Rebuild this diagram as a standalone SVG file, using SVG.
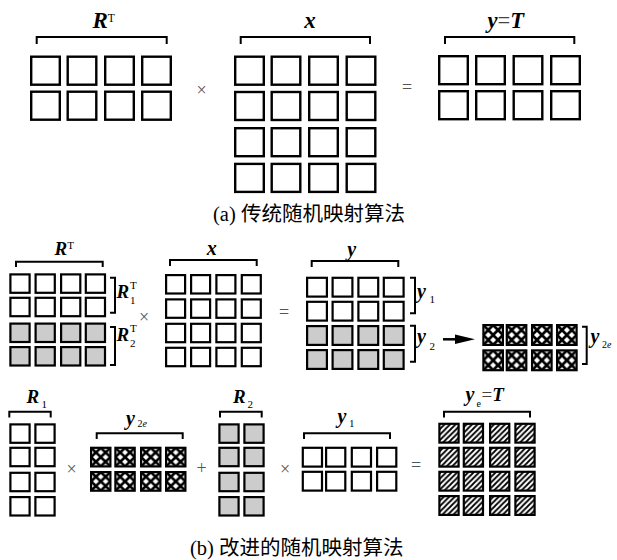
<svg xmlns="http://www.w3.org/2000/svg" width="617" height="560" viewBox="0 0 617 560">
<style>
.c{fill:#fff;stroke:#000;stroke-width:2.4}
.s{fill:#fff;stroke:#000;stroke-width:2.2}
.g{fill:#cccccc;stroke:#000;stroke-width:2.2}
.x{fill:url(#cross);stroke:#000;stroke-width:2.2}
.h{fill:url(#hatch);stroke:#000;stroke-width:2.2}
.br{fill:none;stroke:#000;stroke-width:2}
.m{font-family:"Liberation Serif",serif;font-weight:bold;font-style:italic;fill:#000}
.r{font-family:"Liberation Serif",serif;font-weight:normal;font-style:normal}
.op{font-family:"Liberation Serif",serif;font-size:18px;fill:#555;text-anchor:middle}
.cap{font-family:"Liberation Serif","Noto Sans CJK SC",serif;font-size:20.5px;fill:#000}
</style>
<defs>
<pattern id="cross" patternUnits="objectBoundingBox" patternContentUnits="objectBoundingBox" width="0.5" height="0.5">
<rect width="0.5" height="0.5" fill="#fff"/>
<path d="M-0.05,-0.05 L0.55,0.55 M0.55,-0.05 L-0.05,0.55" stroke="#000" stroke-width="0.14"/>
</pattern>
<pattern id="hatch" patternUnits="userSpaceOnUse" width="5.5" height="5.5">
<rect width="5.5" height="5.5" fill="#fff"/>
<path d="M-1,6.5 L6.5,-1 M-1,1 L1,-1 M4.5,6.5 L6.5,4.5" stroke="#000" stroke-width="1.8"/>
</pattern>
</defs>

<!-- (a) -->
<g id="a-RT">
<path class="br" d="M36.7,44 V37 H166.7 V44"/>
<text class="m" x="92.5" y="28.3" font-size="23">R<tspan class="r" font-size="11.5" dy="-6.8">T</tspan></text>
<rect class="c" x="31.2" y="56.7" width="28.6" height="28"/>
<rect class="c" x="67.7" y="56.7" width="28.6" height="28"/>
<rect class="c" x="105.2" y="56.7" width="28.6" height="28"/>
<rect class="c" x="142.2" y="56.7" width="28.6" height="28"/>
<rect class="c" x="31.2" y="91.7" width="28.6" height="28"/>
<rect class="c" x="67.7" y="91.7" width="28.6" height="28"/>
<rect class="c" x="105.2" y="91.7" width="28.6" height="28"/>
<rect class="c" x="142.2" y="91.7" width="28.6" height="28"/>
</g>
<text class="op" x="201.7" y="95.5">×</text>
<g id="a-x">
<path class="br" d="M240.7,44 V37 H370 V44"/>
<text class="m" x="310" y="28.3" font-size="23" text-anchor="middle">x</text>
<rect class="c" x="235.2" y="56.7" width="28.6" height="28"/>
<rect class="c" x="271.7" y="56.7" width="28.6" height="28"/>
<rect class="c" x="309.2" y="56.7" width="28.6" height="28"/>
<rect class="c" x="346.7" y="56.7" width="28.6" height="28"/>
<rect class="c" x="235.2" y="92" width="28.6" height="28"/>
<rect class="c" x="271.7" y="92" width="28.6" height="28"/>
<rect class="c" x="309.2" y="92" width="28.6" height="28"/>
<rect class="c" x="346.7" y="92" width="28.6" height="28"/>
<rect class="c" x="235.2" y="128.2" width="28.6" height="28"/>
<rect class="c" x="271.7" y="128.2" width="28.6" height="28"/>
<rect class="c" x="309.2" y="128.2" width="28.6" height="28"/>
<rect class="c" x="346.7" y="128.2" width="28.6" height="28"/>
<rect class="c" x="235.2" y="163.9" width="28.6" height="28"/>
<rect class="c" x="271.7" y="163.9" width="28.6" height="28"/>
<rect class="c" x="309.2" y="163.9" width="28.6" height="28"/>
<rect class="c" x="346.7" y="163.9" width="28.6" height="28"/>
</g>
<text class="op" x="407" y="92.5">=</text>
<g id="a-yT">
<path class="br" d="M445,44 V37 H574.3 V44"/>
<text class="m" x="487.5" y="28.3" font-size="22.5">y<tspan class="r" fill="#444">=</tspan>T</text>
<rect class="c" x="439.2" y="56.2" width="28.6" height="28"/>
<rect class="c" x="476.2" y="56.2" width="28.6" height="28"/>
<rect class="c" x="513.7" y="56.2" width="28.6" height="28"/>
<rect class="c" x="551.2" y="56.2" width="28.6" height="28"/>
<rect class="c" x="439.2" y="91.2" width="28.6" height="28"/>
<rect class="c" x="476.2" y="91.2" width="28.6" height="28"/>
<rect class="c" x="513.7" y="91.2" width="28.6" height="28"/>
<rect class="c" x="551.2" y="91.2" width="28.6" height="28"/>
</g>
<text class="cap" x="213" y="221">(a) 传统随机映射算法</text>

<!-- (b) top -->
<g id="b-RT">
<path class="br" d="M16,267 V261.7 H102.7 V267"/>
<text class="m" x="54.5" y="255" font-size="19">R<tspan class="r" font-size="11" dy="-6">T</tspan></text>
<rect class="s" x="10.4" y="274.4" width="19.2" height="18.4"/>
<rect class="s" x="35.6" y="274.4" width="19.2" height="18.4"/>
<rect class="s" x="61.1" y="274.4" width="19.2" height="18.4"/>
<rect class="s" x="85.8" y="274.4" width="19.2" height="18.4"/>
<rect class="s" x="10.4" y="297.8" width="19.2" height="18.4"/>
<rect class="s" x="35.6" y="297.8" width="19.2" height="18.4"/>
<rect class="s" x="61.1" y="297.8" width="19.2" height="18.4"/>
<rect class="s" x="85.8" y="297.8" width="19.2" height="18.4"/>
<rect class="g" x="10.4" y="323.6" width="19.2" height="18.4"/>
<rect class="g" x="35.6" y="323.6" width="19.2" height="18.4"/>
<rect class="g" x="61.1" y="323.6" width="19.2" height="18.4"/>
<rect class="g" x="85.8" y="323.6" width="19.2" height="18.4"/>
<rect class="g" x="10.4" y="347.1" width="19.2" height="18.4"/>
<rect class="g" x="35.6" y="347.1" width="19.2" height="18.4"/>
<rect class="g" x="61.1" y="347.1" width="19.2" height="18.4"/>
<rect class="g" x="85.8" y="347.1" width="19.2" height="18.4"/>
<path class="br" d="M110,277.7 H115 V312.7 H110"/>
<text class="m" x="116.5" y="298" font-size="19">R</text>
<text class="r" x="130" y="289" font-size="11" font-family="Liberation Serif, serif">T</text>
<text class="r" x="130" y="304" font-size="11" font-family="Liberation Serif, serif">1</text>
<path class="br" d="M110,327 H115 V365 H110"/>
<text class="m" x="116.5" y="341" font-size="19">R</text>
<text class="r" x="130" y="332" font-size="11" font-family="Liberation Serif, serif">T</text>
<text class="r" x="130" y="347" font-size="11" font-family="Liberation Serif, serif">2</text>
</g>
<text class="op" x="144" y="322.5">×</text>
<g id="b-x">
<path class="br" d="M170,266 V260 H256.7 V266"/>
<text class="m" x="211.7" y="255" font-size="20" text-anchor="middle">x</text>
<rect class="s" x="166.1" y="275.1" width="19" height="18.4"/>
<rect class="s" x="191.1" y="275.1" width="19" height="18.4"/>
<rect class="s" x="216.4" y="275.1" width="19" height="18.4"/>
<rect class="s" x="241.8" y="275.1" width="19" height="18.4"/>
<rect class="s" x="166.1" y="299.4" width="19" height="18.4"/>
<rect class="s" x="191.1" y="299.4" width="19" height="18.4"/>
<rect class="s" x="216.4" y="299.4" width="19" height="18.4"/>
<rect class="s" x="241.8" y="299.4" width="19" height="18.4"/>
<rect class="s" x="166.1" y="323.8" width="19" height="18.4"/>
<rect class="s" x="191.1" y="323.8" width="19" height="18.4"/>
<rect class="s" x="216.4" y="323.8" width="19" height="18.4"/>
<rect class="s" x="241.8" y="323.8" width="19" height="18.4"/>
<rect class="s" x="166.1" y="347.8" width="19" height="18.4"/>
<rect class="s" x="191.1" y="347.8" width="19" height="18.4"/>
<rect class="s" x="216.4" y="347.8" width="19" height="18.4"/>
<rect class="s" x="241.8" y="347.8" width="19" height="18.4"/>
</g>
<text class="op" x="284" y="317.5">=</text>
<g id="b-y">
<path class="br" d="M311.7,267 V261 H398.3 V267"/>
<text class="m" x="351.7" y="255.5" font-size="20" text-anchor="middle">y</text>
<rect class="s" x="307.1" y="277.8" width="19.8" height="18.8"/>
<rect class="s" x="332.6" y="277.8" width="19.8" height="18.8"/>
<rect class="s" x="358.4" y="277.8" width="19.8" height="18.8"/>
<rect class="s" x="383.8" y="277.8" width="19.8" height="18.8"/>
<rect class="s" x="307.1" y="301.8" width="19.8" height="18.8"/>
<rect class="s" x="332.6" y="301.8" width="19.8" height="18.8"/>
<rect class="s" x="358.4" y="301.8" width="19.8" height="18.8"/>
<rect class="s" x="383.8" y="301.8" width="19.8" height="18.8"/>
<rect class="g" x="307.1" y="326.1" width="19.8" height="18.8"/>
<rect class="g" x="332.6" y="326.1" width="19.8" height="18.8"/>
<rect class="g" x="358.4" y="326.1" width="19.8" height="18.8"/>
<rect class="g" x="383.8" y="326.1" width="19.8" height="18.8"/>
<rect class="g" x="307.1" y="350.1" width="19.8" height="18.8"/>
<rect class="g" x="332.6" y="350.1" width="19.8" height="18.8"/>
<rect class="g" x="358.4" y="350.1" width="19.8" height="18.8"/>
<rect class="g" x="383.8" y="350.1" width="19.8" height="18.8"/>
<path class="br" d="M410,277.7 H415 V313.3 H410"/>
<text class="m" x="417" y="298" font-size="20">y</text>
<text class="r" x="429.5" y="303.3" font-size="11" font-family="Liberation Serif, serif">1</text>
<path class="br" d="M410,325.7 H415 V361.7 H410"/>
<text class="m" x="417" y="343" font-size="20">y</text>
<text class="r" x="429.5" y="350" font-size="11" font-family="Liberation Serif, serif">2</text>
</g>
<g id="connectors">
<line x1="443" y1="339.3" x2="457" y2="339.3" stroke="#000" stroke-width="2.5"/>
<polygon points="455,334.5 475,339.3 455,344.1" fill="#000"/>
</g>
<g id="b-y2e">
<rect class="x" x="483.4" y="325.1" width="19.5" height="19.8"/>
<rect class="x" x="506.8" y="325.1" width="19.5" height="19.8"/>
<rect class="x" x="532.1" y="325.1" width="19.5" height="19.8"/>
<rect class="x" x="557.1" y="325.1" width="19.5" height="19.8"/>
<rect class="x" x="483.4" y="350.4" width="19.5" height="19.8"/>
<rect class="x" x="506.8" y="350.4" width="19.5" height="19.8"/>
<rect class="x" x="532.1" y="350.4" width="19.5" height="19.8"/>
<rect class="x" x="557.1" y="350.4" width="19.5" height="19.8"/>
<path class="br" d="M582,326.7 H586.7 V364 H582"/>
<text class="m" x="590.5" y="343" font-size="20">y</text>
<text class="r" x="602" y="348.3" font-size="10" font-family="Liberation Serif, serif">2<tspan font-style="italic">e</tspan></text>
</g>

<!-- (b) bottom -->
<g id="b-R1">
<path class="br" d="M9.3,417.5 V411.7 H50.7 V417.5"/>
<text class="m" x="26.5" y="402.7" font-size="19">R</text>
<text class="r" x="41.5" y="408.3" font-size="11" font-family="Liberation Serif, serif">1</text>
<rect class="s" x="10.4" y="424.4" width="19.2" height="18.4"/>
<rect class="s" x="35.4" y="424.4" width="19.2" height="18.4"/>
<rect class="s" x="10.4" y="447.8" width="19.2" height="18.4"/>
<rect class="s" x="35.4" y="447.8" width="19.2" height="18.4"/>
<rect class="s" x="10.4" y="472.8" width="19.2" height="18.4"/>
<rect class="s" x="35.4" y="472.8" width="19.2" height="18.4"/>
<rect class="s" x="10.4" y="497.1" width="19.2" height="18.4"/>
<rect class="s" x="35.4" y="497.1" width="19.2" height="18.4"/>
</g>
<text class="op" x="71.7" y="474.5">×</text>
<g id="b-y2e-2">
<path class="br" d="M96.7,439 V433.3 H182.7 V439"/>
<text class="m" x="126" y="424.5" font-size="20">y</text>
<text class="r" x="137.5" y="427" font-size="10" font-family="Liberation Serif, serif">2<tspan font-style="italic">e</tspan></text>
<rect class="x" x="91.1" y="447.8" width="19.3" height="18.6"/>
<rect class="x" x="115.4" y="447.8" width="19.3" height="18.6"/>
<rect class="x" x="141.1" y="447.8" width="19.3" height="18.6"/>
<rect class="x" x="166.1" y="447.8" width="19.3" height="18.6"/>
<rect class="x" x="91.1" y="472.1" width="19.3" height="18.6"/>
<rect class="x" x="115.4" y="472.1" width="19.3" height="18.6"/>
<rect class="x" x="141.1" y="472.1" width="19.3" height="18.6"/>
<rect class="x" x="166.1" y="472.1" width="19.3" height="18.6"/>
</g>
<text class="op" x="201.7" y="474">+</text>
<g id="b-R2">
<path class="br" d="M220,417.5 V411.7 H261.7 V417.5"/>
<text class="m" x="233" y="402.7" font-size="19">R</text>
<text class="r" x="247.5" y="408.3" font-size="11" font-family="Liberation Serif, serif">2</text>
<rect class="g" x="219.4" y="424.4" width="19.2" height="18.4"/>
<rect class="g" x="244.4" y="424.4" width="19.2" height="18.4"/>
<rect class="g" x="219.4" y="447.8" width="19.2" height="18.4"/>
<rect class="g" x="244.4" y="447.8" width="19.2" height="18.4"/>
<rect class="g" x="219.4" y="472.8" width="19.2" height="18.4"/>
<rect class="g" x="244.4" y="472.8" width="19.2" height="18.4"/>
<rect class="g" x="219.4" y="497.1" width="19.2" height="18.4"/>
<rect class="g" x="244.4" y="497.1" width="19.2" height="18.4"/>
</g>
<text class="op" x="285" y="474.5">×</text>
<g id="b-y1">
<path class="br" d="M304,439 V433.3 H390 V439"/>
<text class="m" x="337.5" y="423" font-size="20">y</text>
<text class="r" x="349" y="426.7" font-size="11" font-family="Liberation Serif, serif">1</text>
<rect class="s" x="302.8" y="447.8" width="19.2" height="18.8"/>
<rect class="s" x="326.1" y="447.8" width="19.2" height="18.8"/>
<rect class="s" x="351.8" y="447.8" width="19.2" height="18.8"/>
<rect class="s" x="377.1" y="447.8" width="19.2" height="18.8"/>
<rect class="s" x="302.8" y="471.8" width="19.2" height="18.8"/>
<rect class="s" x="326.1" y="471.8" width="19.2" height="18.8"/>
<rect class="s" x="351.8" y="471.8" width="19.2" height="18.8"/>
<rect class="s" x="377.1" y="471.8" width="19.2" height="18.8"/>
</g>
<text class="op" x="416" y="470.5">=</text>
<g id="b-yeT">
<path class="br" d="M444,417.5 V411.7 H530 V417.5"/>
<text class="m" x="465.5" y="400.5" font-size="20">y</text>
<text class="r" x="476.5" y="406.7" font-size="10" font-family="Liberation Serif, serif" font-style="italic">e</text>
<text class="m" x="481.5" y="400.5" font-size="19"><tspan class="r" fill="#444">=</tspan>T</text>
<rect class="h" x="439.4" y="423.8" width="19.2" height="18.8"/>
<rect class="h" x="463.8" y="423.8" width="19.2" height="18.8"/>
<rect class="h" x="490.1" y="423.8" width="19.2" height="18.8"/>
<rect class="h" x="515.4" y="423.8" width="19.2" height="18.8"/>
<rect class="h" x="439.4" y="447.8" width="19.2" height="18.8"/>
<rect class="h" x="463.8" y="447.8" width="19.2" height="18.8"/>
<rect class="h" x="490.1" y="447.8" width="19.2" height="18.8"/>
<rect class="h" x="515.4" y="447.8" width="19.2" height="18.8"/>
<rect class="h" x="439.4" y="471.8" width="19.2" height="18.8"/>
<rect class="h" x="463.8" y="471.8" width="19.2" height="18.8"/>
<rect class="h" x="490.1" y="471.8" width="19.2" height="18.8"/>
<rect class="h" x="515.4" y="471.8" width="19.2" height="18.8"/>
<rect class="h" x="439.4" y="496.1" width="19.2" height="18.8"/>
<rect class="h" x="463.8" y="496.1" width="19.2" height="18.8"/>
<rect class="h" x="490.1" y="496.1" width="19.2" height="18.8"/>
<rect class="h" x="515.4" y="496.1" width="19.2" height="18.8"/>
</g>
<text class="cap" x="190" y="555">(b) 改进的随机映射算法</text>
</svg>
